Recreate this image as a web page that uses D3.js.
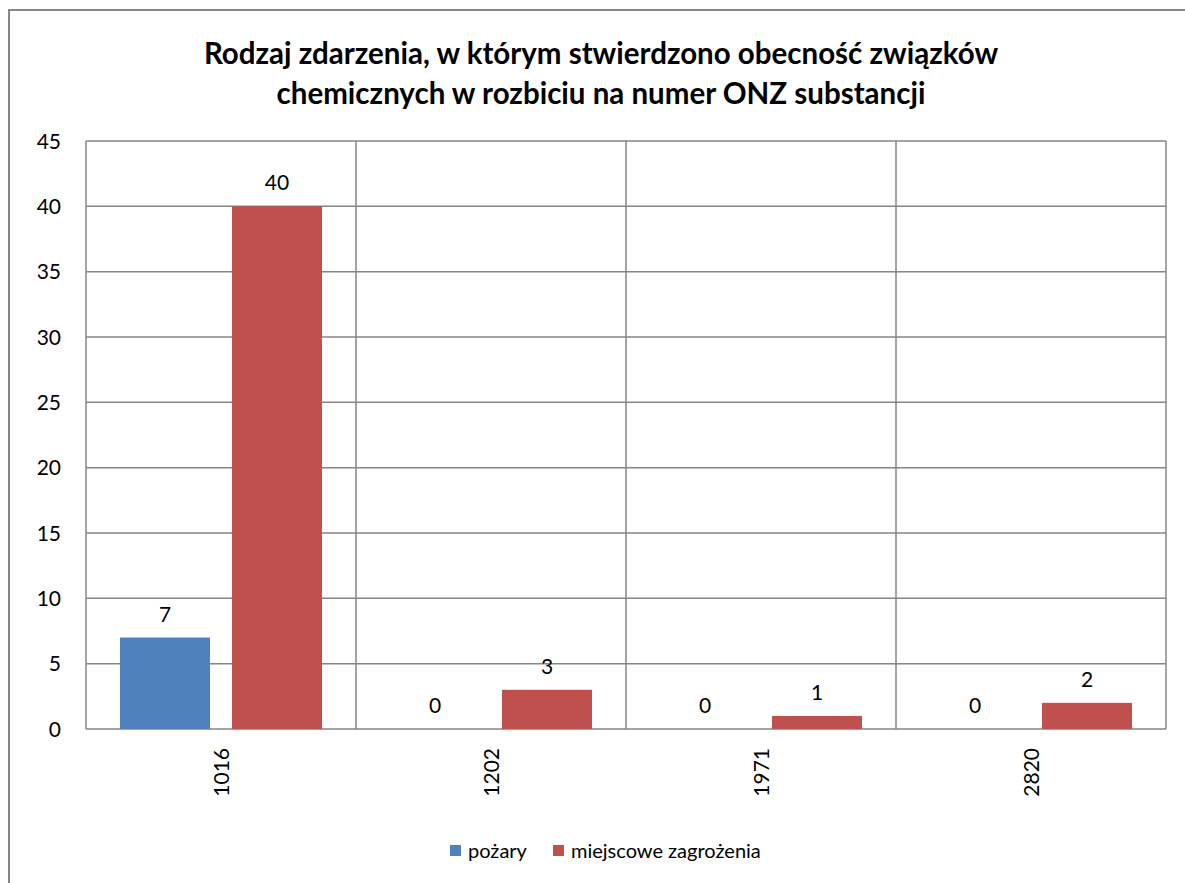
<!DOCTYPE html>
<html>
<head>
<meta charset="utf-8">
<script src="https://cdn.jsdelivr.net/npm/d3@7"></script>
<style>
  body { margin: 0; background: #fff; }
  text { font-family: Lato, "Open Sans", sans-serif; fill: #000; }
</style>
</head>
<body>
<svg id="chart" width="1185" height="883"></svg>
<script>
var categories = ['1016', '1202', '1971', '2820'];
var seriesNames = ['pożary', 'miejscowe zagrożenia'];
var pozary = [7, 0, 0, 0];
var zagrozenia = [40, 3, 1, 2];
var yTicks = [0, 5, 10, 15, 20, 25, 30, 35, 40, 45];
var colors = ['#4f81bd', '#c0504d'];

var svg = d3.select('#chart');
var plotLeft = 86, plotRight = 1166, plotTop = 141, plotBottom = 729;

// chart area border
svg.append('rect')
  .attr('x', 9).attr('y', 10)
  .attr('width', 1190).attr('height', 900)
  .attr('fill', 'none').attr('stroke', '#868686').attr('stroke-width', 2);

// title
var title = svg.append('text')
  .attr('text-anchor', 'middle')
  .style('font-weight', 'bold')
  .style('font-size', '29.5px');
title.append('tspan').attr('x', 601).attr('y', 64)
  .text('Rodzaj zdarzenia, w którym stwierdzono obecność związków');
title.append('tspan').attr('x', 601).attr('y', 104)
  .text('chemicznych w rozbiciu na numer ONZ substancji');

var x = d3.scaleBand().domain(categories).range([plotLeft, plotRight]);
var y = d3.scaleLinear().domain([0, 45]).range([plotBottom, plotTop]);

// horizontal gridlines
svg.append('g').selectAll('line')
  .data(yTicks)
  .enter().append('line')
  .attr('x1', plotLeft).attr('x2', plotRight)
  .attr('y1', function(d) { return y(d); })
  .attr('y2', function(d) { return y(d); })
  .attr('stroke', '#868686').attr('stroke-width', 1.5);

// vertical gridlines at category boundaries
var bounds = categories.map(function(c) { return x(c); }).concat([plotRight]);
svg.append('g').selectAll('line')
  .data(bounds)
  .enter().append('line')
  .attr('x1', function(d) { return d; }).attr('x2', function(d) { return d; })
  .attr('y1', plotTop).attr('y2', plotBottom)
  .attr('stroke', '#868686').attr('stroke-width', 1.5);

// y axis labels
svg.append('g').selectAll('text')
  .data(yTicks)
  .enter().append('text')
  .attr('x', 61)
  .attr('y', function(d) { return y(d); })
  .attr('dy', '0.36em')
  .attr('text-anchor', 'end')
  .style('font-size', '21px')
  .text(function(d) { return d; });

// bars
var barW = x.bandwidth() / 3;
var gap = 22;
var off = (x.bandwidth() - 2 * barW - gap) / 2;
var x1 = d3.scaleOrdinal().domain([0, 1]).range([off, off + barW + gap]);

var series = [pozary, zagrozenia];
series.forEach(function(vals, si) {
  var g = svg.append('g');
  g.selectAll('rect')
    .data(vals)
    .enter().append('rect')
    .attr('x', function(d, i) { return x(categories[i]) + x1(si); })
    .attr('y', function(d) { return y(d); })
    .attr('width', barW)
    .attr('height', function(d) { return y(0) - y(d); })
    .attr('fill', colors[si]);
  g.selectAll('text')
    .data(vals)
    .enter().append('text')
    .attr('x', function(d, i) { return x(categories[i]) + x1(si) + barW / 2; })
    .attr('y', function(d) { return y(d) - 16; })
    .attr('text-anchor', 'middle')
    .style('font-size', '21px')
    .text(function(d) { return d; });
});

// category labels (rotated)
svg.append('g').selectAll('text')
  .data(categories)
  .enter().append('text')
  .attr('transform', function(d) {
    return 'translate(' + (x(d) + x.bandwidth() / 2 + 8) + ',' + (plotBottom + 19) + ') rotate(-90)';
  })
  .attr('text-anchor', 'end')
  .style('font-size', '21px')
  .text(function(d) { return d; });

// legend
var legend = svg.append('g');
var lx = [450, 553];
seriesNames.forEach(function(n, i) {
  legend.append('rect')
    .attr('x', lx[i]).attr('y', 845)
    .attr('width', 11).attr('height', 11)
    .attr('fill', colors[i]);
  legend.append('text')
    .attr('x', lx[i] + 18).attr('y', 851)
    .attr('dy', '0.35em')
    .style('font-size', '20px')
    .text(n);
});
</script>
</body>
</html>
